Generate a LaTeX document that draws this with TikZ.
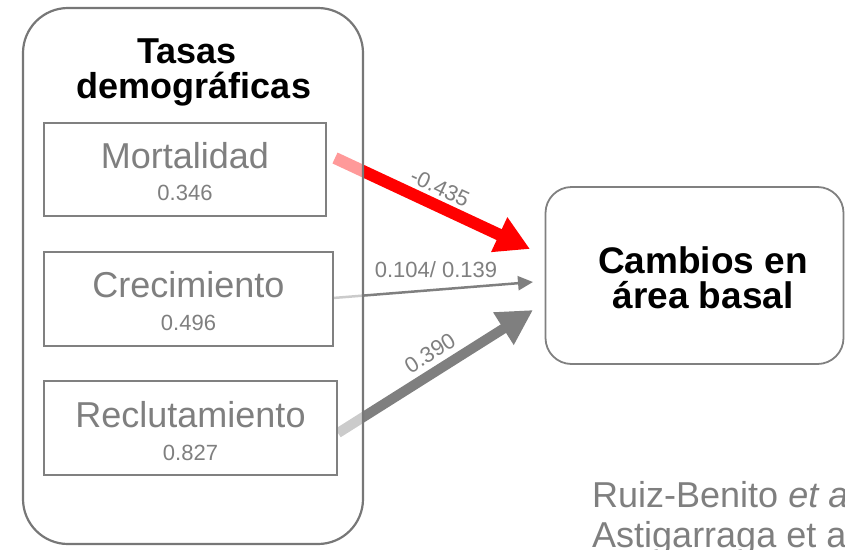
\documentclass[tikz,border=0pt]{standalone}
\usepackage{fontspec}
\setmainfont{Liberation Sans}
\usetikzlibrary{arrows.meta}
\definecolor{txtgray}{HTML}{7F7F7F}
\definecolor{boxgray}{HTML}{808080}
\definecolor{outgray}{HTML}{777777}
\definecolor{arrgray}{HTML}{7F7F7F}
\tikzset{
  outerbox/.style={draw=outgray, line width=2.2pt, fill=white, fill opacity=0.6, rounded corners=45pt, inner sep=0pt},
  innerbox/.style={draw=boxgray, line width=1.8pt, fill=white, inner sep=0pt},
  resultbox/.style={draw=boxgray, line width=1.8pt, fill=white, rounded corners=26pt, inner sep=0pt},
  titletxt/.style={font=\bfseries\fontsize{36}{36}\selectfont, text=black, inner sep=0pt, anchor=base},
  resulttxt/.style={font=\bfseries\fontsize{37}{37}\selectfont, text=black, inner sep=0pt, anchor=base},
  bigtxt/.style={font=\fontsize{36}{36}\selectfont, text=txtgray, inner sep=0pt, anchor=base},
  smalltxt/.style={font=\fontsize{22}{22}\selectfont, text=txtgray, inner sep=0pt, anchor=base},
  coeftxt/.style={font=\fontsize{22}{22}\selectfont, text=txtgray, inner sep=0pt},
  reftxt/.style={font=\fontsize{36}{36}\selectfont, text=txtgray, inner sep=0pt, anchor=base west},
}
\begin{document}
\begin{tikzpicture}[x=1pt,y=-1pt]
\useasboundingbox (0,0) rectangle (845,549);

% arrows (drawn first, partly veiled by the outer box)
\coordinate (a1s) at (335,158);
\coordinate (a1e) at (530,249);
\coordinate (a2s) at (333,298);
\coordinate (a2e) at (533,282);
\coordinate (a3s) at (338,433);
\coordinate (a3e) at (533,310);
\draw[red, line width=12pt, -{Triangle[length=34pt,width=36pt]}] (a1s) -- (a1e);
\draw[arrgray, line width=2.5pt, -{Triangle[length=15pt,width=14pt]}] (a2s) -- (a2e);
\draw[arrgray, line width=10pt, -{Triangle[length=35pt,width=36pt]}] (a3s) -- (a3e);

% outer group box
\node[outerbox, minimum width=340pt, minimum height=536pt] (outer) at (193,276) {};
\node[titletxt] (t1) at (187,63) {Tasas};
\node[titletxt] (t2) at (194,98) {demográficas};

% inner boxes
\node[innerbox, minimum width=282pt, minimum height=93pt] (mort) at (185,169.5) {};
\node[bigtxt] (mortT) at (185,168) {Mortalidad};
\node[smalltxt] (mortV) at (185,200) {0.346};

\node[innerbox, minimum width=289pt, minimum height=94pt] (crec) at (188.5,299) {};
\node[bigtxt] (crecT) at (188.5,297) {Crecimiento};
\node[smalltxt] (crecV) at (188.5,330) {0.496};

\node[innerbox, minimum width=293pt, minimum height=94pt] (recl) at (190.5,428) {};
\node[bigtxt] (reclT) at (190.5,427) {Reclutamiento};
\node[smalltxt] (reclV) at (190.5,460) {0.827};

% result box
\node[resultbox, minimum width=298pt, minimum height=177pt] (camb) at (694.5,275.5) {};
\node[resulttxt] (c1) at (703,273) {Cambios en};
\node[resulttxt] (c2) at (703,308) {área basal};

% coefficients
\node[coeftxt, rotate=-25] (k1) at (440,188) {-0.435};
\node[smalltxt] (k2) at (436,277) {0.104/ 0.139};
\node[coeftxt, rotate=32] (k3) at (430,353) {0.390};

% references (cut by the page edge)
\node[reftxt] (ref1) at (592,507) {Ruiz-Benito \textit{et a}};
\node[reftxt] (ref2) at (592,547) {Astigarraga et a};
\end{tikzpicture}
\end{document}
